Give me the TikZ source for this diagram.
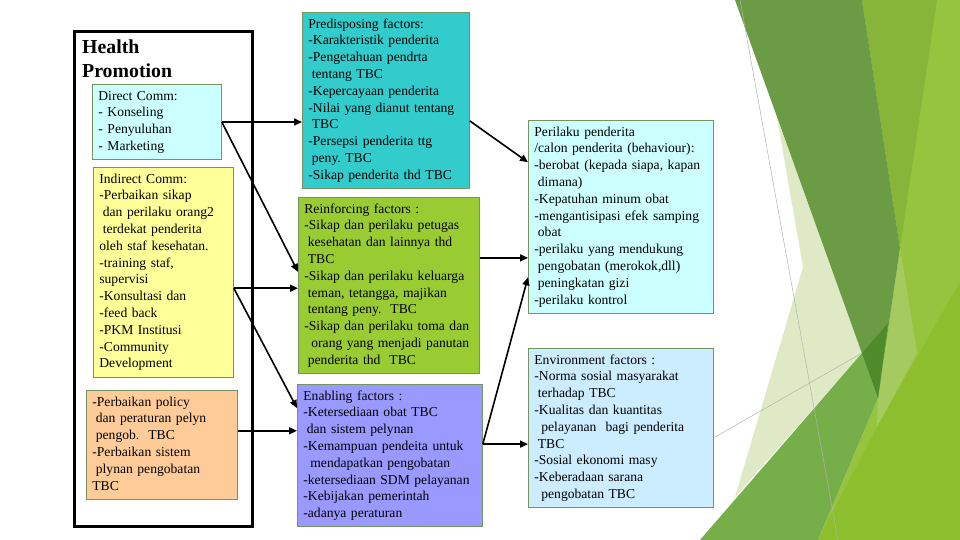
\documentclass[tikz,border=0pt]{standalone}
\usepackage{fontspec}
\setmainfont{Liberation Serif}
\usetikzlibrary{arrows.meta, positioning, calc}

\definecolor{boxline}{RGB}{118,148,96}
\definecolor{directfill}{RGB}{204,255,255}
\definecolor{indirectfill}{RGB}{255,255,153}
\definecolor{policyfill}{RGB}{255,204,153}
\definecolor{predisfill}{RGB}{51,204,204}
\definecolor{reinffill}{RGB}{153,204,51}
\definecolor{enabfill}{RGB}{153,153,255}
\definecolor{perilfill}{RGB}{204,255,255}
\definecolor{envirfill}{RGB}{204,236,255}
% facet colours
\definecolor{facetbright}{RGB}{150,196,62}
\definecolor{facetlow}{RGB}{141,190,46}
\definecolor{facetolive}{RGB}{134,181,58}
\definecolor{facetdark}{RGB}{108,155,69}
\definecolor{facetpale}{RGB}{223,233,197}
\definecolor{facetmid}{RGB}{165,203,96}
\definecolor{facetgreen}{RGB}{118,175,74}
\definecolor{facetdeep}{RGB}{79,139,43}

\newcommand{\indt}{\hspace*{3.5pt}}

\begin{document}
\begin{tikzpicture}[
    x=1pt, y=-1pt,
    font=\fontsize{13.6}{16.8}\selectfont,
    % Styles
    factor/.style={rectangle, draw=boxline, line width=0.8pt, anchor=north west, align=left, inner xsep=6pt, inner ysep=4pt, execute at begin node={\hyphenpenalty=10000\strut}, execute at end node=\strut},
    hpframe/.style={rectangle, draw=black, line width=3pt, anchor=north west},
    hptitle/.style={anchor=north west, align=left, inner sep=0pt, font=\fontsize{19.8}{24}\selectfont\bfseries},
    arrow/.style={-{Triangle[length=8pt,width=7pt]}, line width=1.6pt},
    facetline/.style={draw=black!30, line width=0.5pt}
]
\useasboundingbox (0,0) rectangle (960,540);
\fill[white] (0,0) rectangle (960,540);

% ------------------- BACKGROUND FACETS -------------------
\fill[facetbright] (862,0) -- (960,0) -- (960,540) -- (818,540) -- (878,398) -- (900,248) -- cycle;
\fill[facetlow] (960,282) -- (960,540) -- (818,540) -- (877,427) -- cycle;
\fill[facetolive] (862,0) -- (937,0) -- (900,248) -- cycle;
\fill[facetpale] (777,118) -- (803,267) -- (735,497) -- (862,353) -- cycle;
\fill[facetmid] (900,248) -- (917,353) -- (877,427) -- (878,398) -- cycle;
\fill[facetdark] (735,0) -- (862,0) -- (900,248) -- (878,398) -- cycle;
\fill[facetgreen] (700,540) -- (888,323) -- (878,398) -- (818,540) -- cycle;
\fill[facetdeep] (862,353) -- (888,323) -- (878,398) -- cycle;
\draw[facetline] (740,0) -- (838,540);
\draw[facetline] (715,437) -- (862,353);

% ------------------- HEALTH PROMOTION -------------------
\node[hpframe, minimum width=178pt, minimum height=495pt] (hp) at (73,30) {};
\node[hptitle, text width=150pt] (hpname) at (82,40) {Health\\Promotion};

\node[factor, fill=directfill, text width=117pt] (direct) at (92,84) {Direct Comm:\\- Konseling\\- Penyuluhan\\- Marketing};
\node[factor, fill=indirectfill, text width=128pt] (indirect) at (93,167) {Indirect Comm:\\-Perbaikan sikap\\\indt dan perilaku orang2\\\indt terdekat penderita\\oleh staf kesehatan.\\-training staf,\\supervisi\\-Konsultasi dan\\-feed back\\-PKM Institusi\\-Community\\Development};
\node[factor, fill=policyfill, text width=139pt] (policy) at (86,390) {-Perbaikan policy\\\indt dan peraturan pelyn\\\indt pengob.\ \ TBC\\-Perbaikan sistem\\\indt plynan pengobatan\\TBC};

% ------------------- FACTORS -------------------
\node[factor, fill=predisfill, text width=155pt] (predis) at (302,12) {Predisposing factors:\\-Karakteristik penderita\\-Pengetahuan pendrta\\\indt tentang TBC\\-Kepercayaan penderita\\-Nilai yang dianut tentang\\\indt TBC\\-Persepsi penderita ttg\\\indt peny.\ TBC\\-Sikap penderita thd TBC};
\node[factor, fill=reinffill, text width=169pt] (reinf) at (298,197) {Reinforcing factors :\\-Sikap dan perilaku petugas\\\indt kesehatan dan lainnya thd\\\indt TBC\\-Sikap dan perilaku keluarga\\\indt teman, tetangga, majikan\\\indt tentang peny.\ \ TBC\\-Sikap dan perilaku toma dan\\\indt\indt orang yang menjadi panutan\\\indt penderita thd\ \ TBC};
\node[factor, fill=enabfill, text width=173pt] (enab) at (297,384) {Enabling factors :\\-Ketersediaan obat TBC\\\indt dan sistem pelynan\\-Kemampuan pendeita untuk\\\indt\indt mendapatkan pengobatan\\-ketersediaan SDM pelayanan\\-Kebijakan pemerintah\\-adanya peraturan};

% ------------------- BEHAVIOUR & ENVIRONMENT -------------------
\node[factor, fill=perilfill, text width=173pt] (peril) at (528,120) {Perilaku penderita\\/calon penderita (behaviour):\\-berobat (kepada siapa, kapan\\\indt dimana)\\-Kepatuhan minum obat\\-mengantisipasi efek samping\\\indt obat\\-perilaku yang mendukung\\\indt pengobatan (merokok,dll)\\\indt peningkatan gizi\\-perilaku kontrol};
\node[factor, fill=envirfill, text width=173pt] (envir) at (528,348) {Environment factors :\\-Norma sosial masyarakat\\\indt terhadap TBC\\-Kualitas dan kuantitas\\\indt\indt pelayanan\ \ bagi penderita\\\indt TBC\\-Sosial ekonomi masy\\-Keberadaan sarana\\\indt\indt pengobatan TBC};

% ------------------- ARROWS -------------------
\draw[arrow] (direct.east) -- (direct.east -| predis.west);
\draw[arrow] (direct.east) -- ([yshift=13.5pt]reinf.west);
\draw[arrow] ([yshift=-16pt]indirect.east) -- ([yshift=-16pt]indirect.east -| reinf.west);
\draw[arrow] ([yshift=-16pt]indirect.east) -- ([yshift=47.5pt]enab.west);
\draw[arrow] ([yshift=14pt]policy.east) -- ([yshift=14pt]policy.east -| enab.west);

\draw[arrow] ([yshift=-20.5pt]predis.east) -- ([yshift=54.5pt]peril.west);
\draw[arrow] ([yshift=27.5pt]reinf.east) -- ([yshift=27.5pt]reinf.east -| peril.west);
\draw[arrow] ([yshift=11.5pt]enab.east) -- ([yshift=-60.5pt]peril.west);
\draw[arrow] ([yshift=11.5pt]enab.east) -- ([yshift=11.5pt]enab.east -| envir.west);

\end{tikzpicture}
\end{document}
